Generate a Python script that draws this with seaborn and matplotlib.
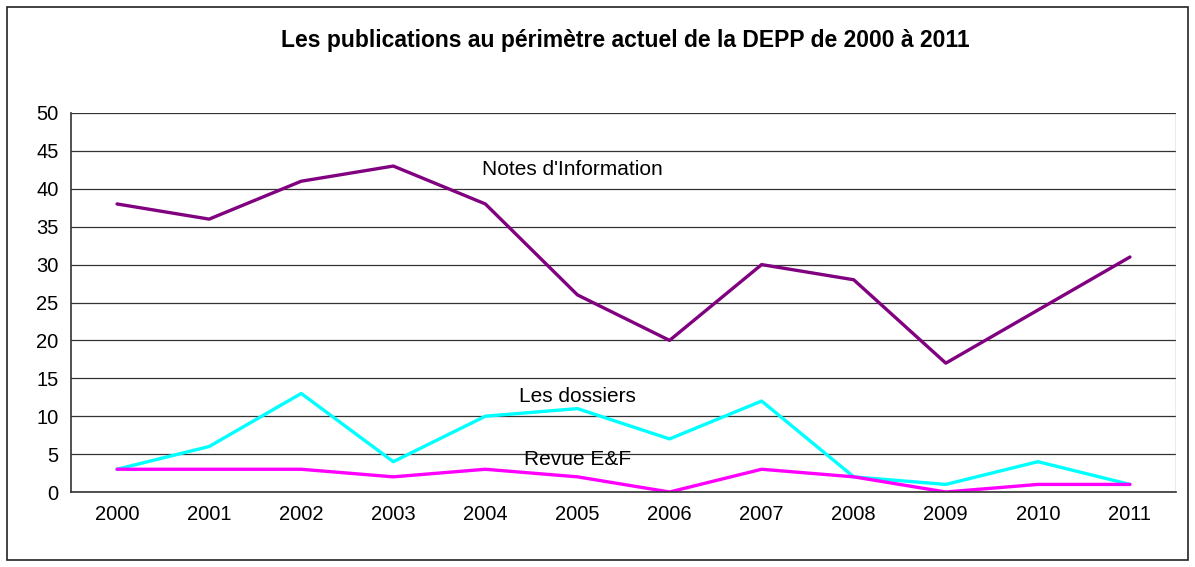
import pandas as pd
import matplotlib.pyplot as plt
import seaborn as sns
from matplotlib.patches import Rectangle
from matplotlib.ticker import FixedLocator, NullFormatter

# ===============================
# Data
# ===============================
years = ["2000", "2001", "2002", "2003", "2004", "2005",
         "2006", "2007", "2008", "2009", "2010", "2011"]
notes_info = [38, 36, 41, 43, 38, 26, 20, 30, 28, 17, 24, 31]
dossiers = [3, 6, 13, 4, 10, 11, 7, 12, 2, 1, 4, 1]
revue_ef = [3, 3, 3, 2, 3, 2, 0, 3, 2, 0, 1, 1]

series_names = ["Notes d'Information", "Les dossiers", "Revue E&F"]
colors = {"Notes d'Information": "#800080",
          "Les dossiers": "#00FFFF",
          "Revue E&F": "#FF00FF"}

df = pd.DataFrame({
    "year": years * 3,
    "value": notes_info + dossiers + revue_ef,
    "serie": [s for s in series_names for _ in years],
})

sns.set_style("white")
plt.rcParams['font.family'] = ['Liberation Sans', 'DejaVu Sans']
plt.rcParams.update({
    'text.color': 'black',
    'xtick.color': 'black',
    'ytick.color': 'black',
})

fig = plt.figure(figsize=(11.95, 5.67), dpi=100)
ax = fig.add_axes([71 / 1195, 1 - 492 / 567, 1105 / 1195, 379 / 567])

sns.lineplot(data=df, x="year", y="value", hue="serie", palette=colors,
             linewidth=2.4, legend=False, ax=ax, sort=False)

ax.set_xlim(-0.5, len(years) - 0.5)
ax.set_ylim(0, 50)
ax.set_yticks(range(0, 51, 5))
ax.yaxis.grid(True, color="#333333", linewidth=0.9)
ax.xaxis.grid(False)
ax.set_axisbelow(True)
ax.set_xlabel("")
ax.set_ylabel("")

# Excel-style category axis: ticks between categories, labels centered
ax.xaxis.set_major_locator(FixedLocator([i - 0.5 for i in range(len(years) + 1)]))
ax.xaxis.set_major_formatter(NullFormatter())
ax.xaxis.set_minor_locator(FixedLocator(range(len(years))))
ax.set_xticklabels(years, minor=True)
ax.tick_params(axis="x", which="major", direction="out", length=6, width=1, color="#333333")
ax.tick_params(axis="x", which="minor", length=0, pad=9, labelsize=14.5)
ax.tick_params(axis="y", direction="out", length=6, width=1, color="#333333", labelsize=14.5, pad=3)

for side in ["top", "right"]:
    ax.spines[side].set_visible(False)
ax.spines["left"].set_color("#333333")
ax.spines["bottom"].set_color("#333333")
ax.spines["left"].set_linewidth(1.2)
ax.spines["bottom"].set_linewidth(1.2)
ax.axvline(len(years) - 0.5, color="#999999", linewidth=1)

# Series labels
ax.text(4.95, 42.5, "Notes d'Information", fontsize=15, ha="center", va="center")
ax.text(5.0, 12.6, "Les dossiers", fontsize=15, ha="center", va="center")
ax.text(5.0, 4.3, "Revue E&F", fontsize=15, ha="center", va="center")

fig.text(625 / 1195, 1 - 40 / 567, "Les publications au périmètre actuel de la DEPP de 2000 à 2011",
         fontsize=16.5, fontweight="bold", ha="center", va="center")

# outer chart frame
fig.patches.append(Rectangle((7 / 1195, 7 / 567), 1181 / 1195, 553 / 567,
                             transform=fig.transFigure, fill=False,
                             edgecolor="#222222", linewidth=1.2))

fig.savefig("out.png", dpi=100, facecolor="white")
